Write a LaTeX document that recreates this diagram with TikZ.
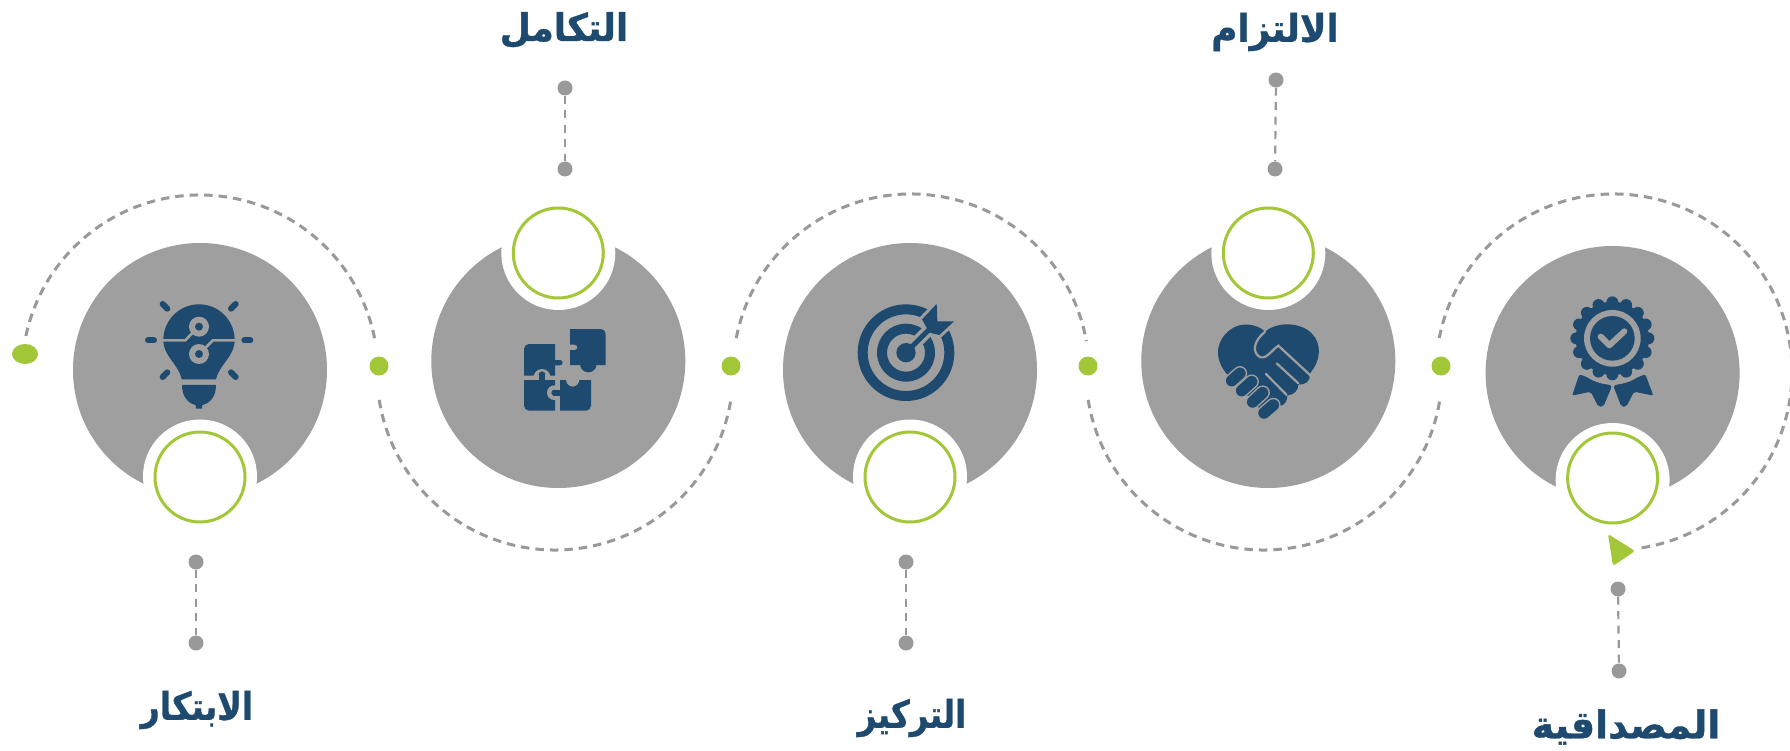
\documentclass[tikz,border=0pt]{standalone}
\usepackage{fontspec}
\usepackage{graphicx}
\usetikzlibrary{shapes.geometric}
\newfontfamily\arabicfont[Script=Arabic,BoldFeatures={FakeBold=1}]{DejaVu Sans}
\TeXXeTstate=1
\definecolor{navy}{HTML}{1F4A6F}
\definecolor{disc}{HTML}{9F9F9F}
\definecolor{lime}{HTML}{A2C739}
\definecolor{dotg}{HTML}{999999}
\tikzset{
  bigdisc/.style={circle,fill=disc,draw=none,minimum size=254pt,inner sep=0pt},
  halo/.style={circle,fill=white,draw=none,minimum size=114pt,inner sep=0pt},
  ring/.style={circle,fill=white,draw=lime,line width=3pt,minimum size=90pt,inner sep=0pt},
  gdot/.style={circle,fill=dotg,draw=none,minimum size=15pt,inner sep=0pt},
  ldot/.style={circle,fill=lime,draw=none,minimum size=19pt,inner sep=0pt},
  ldote/.style={ellipse,fill=lime,draw=none,minimum width=26pt,minimum height=20pt,inner sep=0pt},
  dashv/.style={draw=dotg,line width=2.2pt,dash pattern=on 8pt off 6.5pt},
  darc/.style={draw=dotg,line width=3pt,dash pattern=on 8.5pt off 6pt},
  title/.style={text=navy,inner sep=0pt,font=\arabicfont\bfseries\fontsize{38}{40}\selectfont},
  icon/.style={x=0.33333pt,y=-0.33333pt},
  gl/.style={draw=disc,line width=2.2pt},
  nl/.style={draw=navy,line width=6pt,line cap=round},
}
\begin{document}
\begin{tikzpicture}[x=1pt,y=-1pt]
\useasboundingbox[fill=white] (0,0) rectangle (1790,751);
% discs
\node[bigdisc] (d1) at (200,370) {};
\node[bigdisc] (d2) at (558.3,361) {};
\node[bigdisc] (d3) at (910,370) {};
\node[bigdisc] (d4) at (1268.3,361) {};
\node[bigdisc] (d5) at (1612.6,373) {};
\node[halo] at (200,476.5) {};
\node[halo] at (558.3,253) {};
\node[halo] at (910,476.5) {};
\node[halo] at (1268.3,253) {};
\node[halo] at (1612.6,480) {};
\node[ring] (r1) at (200,477) {};
\node[ring] (r2) at (558.3,253) {};
\node[ring] (r3) at (910,477) {};
\node[ring] (r4) at (1268.3,253) {};
\node[ring] (r5) at (1612.6,478) {};
% arcs
\draw[darc] (200,373) ++(192:178) arc[start angle=192,end angle=350,radius=178];
\draw[darc] (555,372) ++(171:178) arc[start angle=171,delta angle=-162,radius=178];
\draw[darc] (911,372) ++(191:178) arc[start angle=191,end angle=350,radius=178];
\draw[darc] (1264,372) ++(171:178) arc[start angle=171,delta angle=-162,radius=178];
\draw[darc] (1614,372) ++(191:178) arc[start angle=191,end angle=443,radius=178];
% lime dots
\node[ldote] (e0) at (25,354) {};
\node[ldot] (l1) at (379,366) {};
\node[ldot] (l2) at (731,366) {};
\node[ldot] (l3) at (1088,366) {};
\node[ldot] (l4) at (1441,366) {};
\fill[lime,rounded corners=2.5pt] (1608,534) -- (1635,551) -- (1613,566) -- cycle;
% stems
\node[gdot] (a1) at (196,562) {};
\node[gdot] (a2) at (196,643) {};
\node[gdot] (b1) at (565,88) {};
\node[gdot] (b2) at (565,169) {};
\node[gdot] (c1) at (906,562) {};
\node[gdot] (c2) at (906,643) {};
\node[gdot] (f1) at (1276,80) {};
\node[gdot] (f2) at (1275,169) {};
\node[gdot] (g1) at (1618,589) {};
\node[gdot] (g2) at (1619,671) {};
\draw[dashv] (a1)--(a2);
\draw[dashv] (b1)--(b2);
\draw[dashv] (c1)--(c2);
\draw[dashv] (f1)--(f2);
\draw[dashv] (g1)--(g2);
% titles
\node[title] (t1) at (197,710) {\scalebox{0.87}[1]{\beginR الابتكار\endR}};
\node[title] (t2) at (564,30) {\scalebox{0.94}[1]{\beginR التكامل\endR}};
\node[title] (t3) at (912,718) {\scalebox{0.85}[1]{\beginR التركيز\endR}};
\node[title] (t4) at (1275,32) {\scalebox{0.94}[1]{\beginR الالتزام\endR}};
\node[title] (t5) at (1626,727) {\beginR المصداقية\endR};
% bulb
\begin{scope}[shift={(60,230)},icon]
\fill[navy] (310,330) arc[start angle=180,end angle=360,radius=107] .. controls (524,380) and (480,400) .. (468,448) -- (365,448) .. controls (355,400) and (310,380) .. (310,330) -- cycle;
\fill[navy] (366,465) -- (468,465) .. controls (468,500) and (450,520) .. (427,525) -- (426,536) -- (408,536) -- (407,525) .. controls (384,520) and (366,500) .. (366,465) -- cycle;
\draw[disc,line width=2.6pt] (305,331) -- (376,331) -- (400,306);
\draw[disc,line width=2.6pt] (530,331) -- (459,331) -- (434,356);
\fill[disc] (417,290) circle[radius=30];
\fill[navy] (417,290) circle[radius=12];
\fill[disc] (417,372) circle[radius=30];
\fill[navy] (417,372) circle[radius=12];
\draw[nl] (264,331)--(282,331);
\draw[nl] (553,331)--(571,331);
\draw[nl] (308,222)--(322,236);
\draw[nl] (527,222)--(513,236);
\draw[nl] (308,441)--(322,427);
\draw[nl] (527,441)--(513,427);
\end{scope}
% puzzle
\begin{scope}[shift={(420,290)},icon]
\fill[navy] (312,257) -- (312,177) arc[start angle=180,end angle=270,radius=15] -- (405,162) -- (405,257) -- cycle;
\fill[navy] (405,210) -- (420,210) arc[start angle=-90,end angle=90,radius=8] -- (405,226) -- cycle;
\fill[disc] (366,262) circle[radius=25];
\fill[navy] (312,270) -- (405,270) -- (405,362) -- (327,362) arc[start angle=90,end angle=180,radius=15] -- cycle;
\fill[navy] (357,272) rectangle (375,254);
\fill[navy] (366,254) circle[radius=10];
\fill[disc] (403,308) circle[radius=22];
\fill[navy] (420,270) -- (438,270) arc[start angle=180,end angle=0,radius=20] -- (513,270) -- (513,347) arc[start angle=0,end angle=90,radius=15] -- (420,362) -- cycle;
\fill[navy] (398,299) rectangle (422,317);
\fill[navy] (403,308) circle[radius=9];
\fill[navy] (450,225) -- (450,180) -- (464,180) arc[start angle=90,end angle=-90,radius=8] -- (450,164) -- (450,117) -- (542,117) arc[start angle=-90,end angle=0,radius=15] -- (557,225) -- cycle;
\fill[navy] (480,222) arc[start angle=180,end angle=0,radius=25] -- cycle;
\end{scope}
% target
\begin{scope}[shift={(820,280)},icon]
\fill[navy,even odd rule] (258,218) circle[radius=145] (258,218) circle[radius=115];
\fill[navy,even odd rule] (258,218) circle[radius=87] (258,218) circle[radius=57];
\draw[disc,line width=12pt] (285,191) -- (345,131);
\draw[disc,line width=6pt,line join=round] (350,72) -- (352,124) -- (402,124) -- (358,165) -- (328,158) -- (306,118) -- cycle;
\fill[navy] (350,72) -- (352,124) -- (402,124) -- (358,165) -- (328,158) -- (306,118) -- cycle;
\fill[navy] (258,218) circle[radius=29];
\draw[navy,line width=5pt] (258,218) -- (335,141);
\end{scope}
% handshake
\begin{scope}[shift={(1190,300)},icon]
\fill[navy] (225,95) .. controls (200,70) and (150,65) .. (120,90) .. controls (80,120) and (70,170) .. (107,218) -- (232,350) -- (358,222) .. controls (395,180) and (395,130) .. (365,100) .. controls (330,65) and (260,65) .. (225,95) -- cycle;
\fill[disc] (358,222) -- (340,255) -- (325,262) -- (390,262) -- cycle;
\fill[disc] (325,255) -- (300,290) -- (330,300) -- (345,262) -- cycle;
\fill[disc] (292,292) -- (270,318) -- (300,330) -- (310,290) -- cycle;
\fill[navy] (358,222) .. controls (365,240) and (345,258) .. (325,252) -- (300,230) -- cycle;
\fill[navy] (325,250) .. controls (328,270) and (310,288) .. (290,285) -- (265,260) -- cycle;
\fill[navy] (290,285) .. controls (295,300) and (285,315) .. (270,318) -- (250,300) -- cycle;
\draw[gl,line cap=round] (225,95) .. controls (195,120) and (185,150) .. (205,168) .. controls (225,185) and (245,150) .. (265,137) -- (360,225);
\draw[gl,line cap=round] (260,190) -- (325,250);
\draw[gl,line cap=round] (228,222) -- (290,285);
\draw[disc,line width=14.5pt,line cap=round] (125,242) -- (150,220);
\draw[disc,line width=14.5pt,line cap=round] (155,272) -- (185,245);
\draw[disc,line width=14.5pt,line cap=round] (188,306) -- (218,278);
\draw[disc,line width=14.5pt,line cap=round] (222,339) -- (250,315);
\draw[navy,line width=11.5pt,line cap=round] (125,242) -- (150,220);
\draw[navy,line width=11.5pt,line cap=round] (155,272) -- (185,245);
\draw[navy,line width=11.5pt,line cap=round] (188,306) -- (218,278);
\draw[navy,line width=11.5pt,line cap=round] (222,339) -- (250,315);
\end{scope}
% medal
\begin{scope}[shift={(1540,280)},icon]
\fill[navy,rounded corners=2pt] (118,283) -- (216,318) -- (190,380) -- (175,380) -- (152,335) -- (96,347) -- cycle;
\fill[navy,rounded corners=2pt] (316,283) -- (220,318) -- (244,380) -- (259,380) -- (282,335) -- (340,347) -- cycle;
\fill[disc] (217,175) circle[radius=139];
\foreach \a in {0,22.5,...,337.5} \fill[navy] (217,175) ++(\a:108) circle[radius=18];
\fill[navy] (217,175) circle[radius=110];
\fill[disc] (217,175) circle[radius=85];
\fill[navy] (217,175) circle[radius=67];
\draw[disc,line width=6pt,line cap=round,line join=round] (182,170) -- (208,196) -- (253,154);
\end{scope}
\end{tikzpicture}
\end{document}
